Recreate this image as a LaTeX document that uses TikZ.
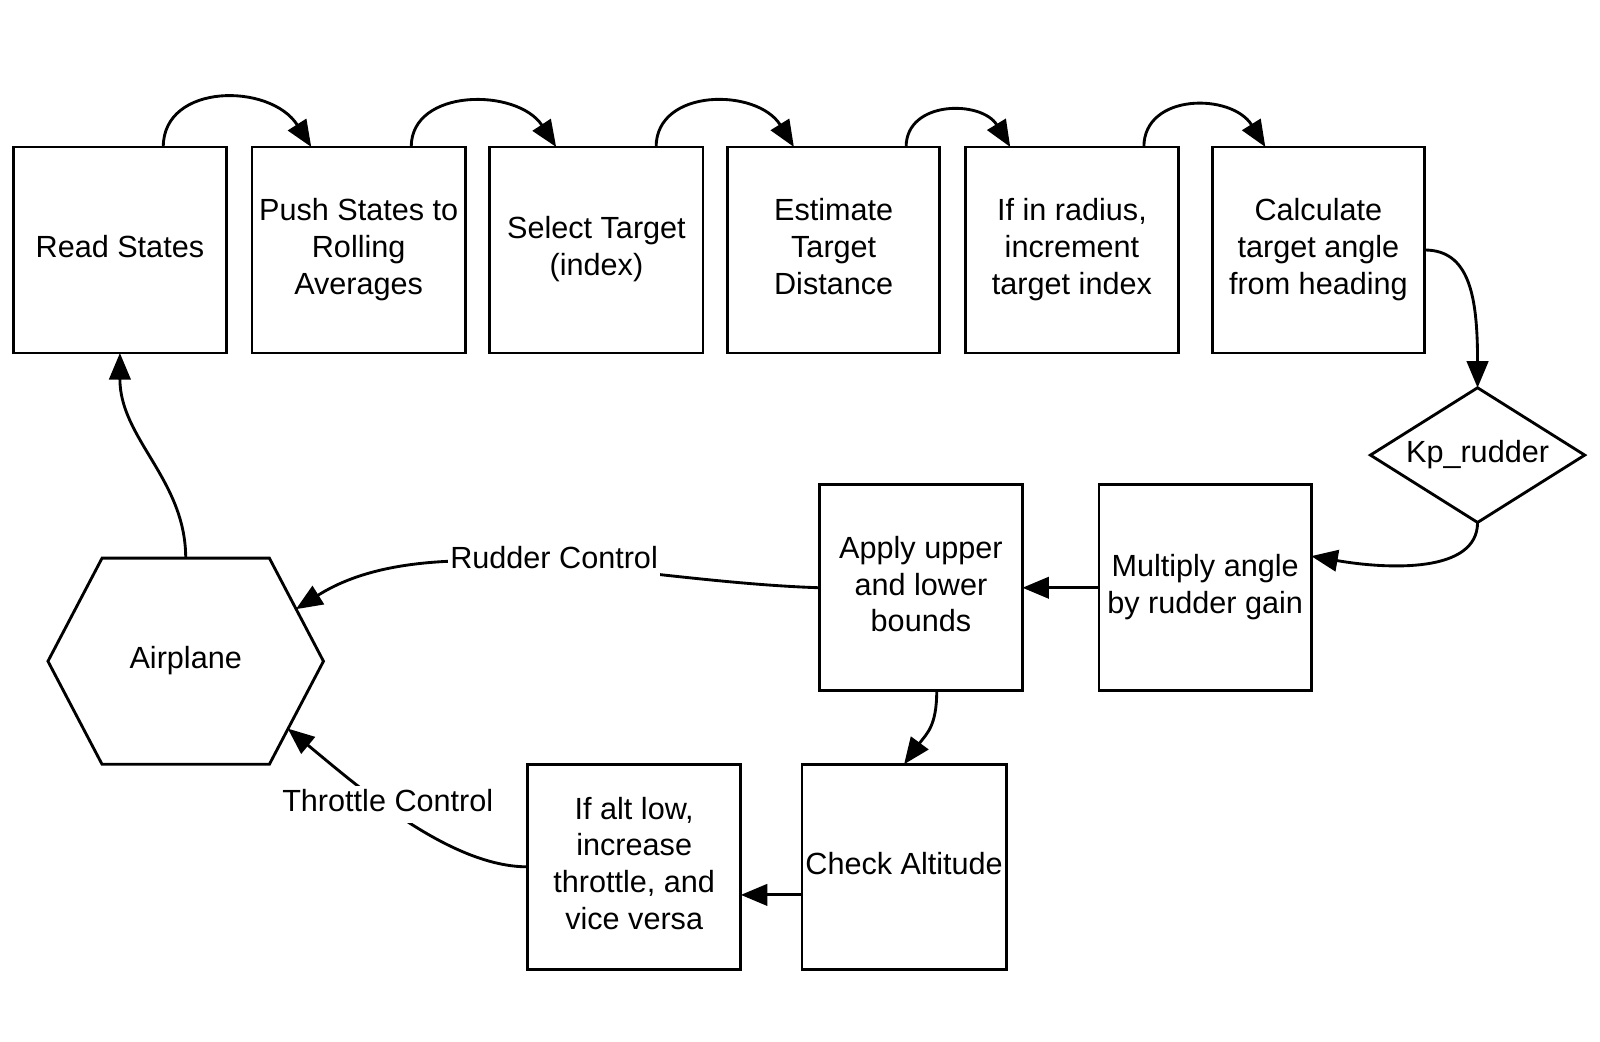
\documentclass[tikz,border=0pt]{standalone}
\usepackage{fontspec}
\setmainfont{Liberation Sans}
\usetikzlibrary{arrows.meta,shapes.geometric,calc}
\newcommand\mycell[1]{\begin{tabular}{@{}c@{}}#1\end{tabular}}
\tikzset{
  txt/.style={font=\fontsize{15}{18}\selectfont},
  box/.style={txt, draw, line width=1.4pt, minimum width=104.5pt, minimum height=101pt,
    inner sep=0pt, outer sep=0pt},
  kpbox/.style={txt, draw, diamond, line width=1.4pt, minimum width=105pt, minimum height=66pt,
    aspect=1.6, inner sep=0pt, outer sep=0pt},
  hexbox/.style={txt, draw=none, minimum width=135pt, minimum height=101pt,
    inner sep=0pt, outer sep=0pt},
  lbl/.style={txt, fill=white, inner xsep=1pt, inner ysep=0pt},
  conn/.style={line width=1.4pt, -{Triangle[length=13pt,width=10.5pt]}},
  edge/.style={line width=1.4pt, line join=miter}
}
\begin{document}
\begin{tikzpicture}[x=0.5pt,y=-0.5pt]
\useasboundingbox (0,0) rectangle (1568,1021);
% top row
\node[box] (read)   at (117.5,245) {\mycell{Read States}};
\node[box] (push)   at (351.5,245) {\mycell{Push States to\\Rolling\\Averages}};
\node[box] (select) at (584.5,245) {\mycell{Select Target\\(index)}};
\node[box, minimum width=104pt] (est) at (817,245) {\mycell{Estimate\\Target\\Distance}};
\node[box] (rad)    at (1050.5,245) {\mycell{If in radius,\\increment\\target index}};
\node[box, minimum width=104pt] (calc) at (1292,245) {\mycell{Calculate\\target angle\\from heading}};
% diamond
\node[kpbox] (kp) at (1448,446) {\mycell{Kp\_rudder}};
% middle row
\node[box, minimum width=104pt] (mult) at (1181,576) {\mycell{Multiply angle\\by rudder gain}};
\node[box, minimum width=99.5pt] (apply) at (902.5,576) {\mycell{Apply upper\\and lower\\bounds}};
% bottom row
\node[box, minimum width=100pt, minimum height=100.5pt] (check) at (886,849.5) {\mycell{Check Altitude}};
\node[box, minimum height=100.5pt] (alt) at (621.5,849.5) {\mycell{If alt low,\\increase\\throttle, and\\vice versa}};
% airplane hexagon
\node[hexbox] (air) at (182,648) {\mycell{Airplane}};
\draw[edge] (air.west) -- ($(air.north west)+(53,0)$) -- ($(air.north east)+(-53,0)$)
  -- (air.east) -- ($(air.south east)+(-53,0)$) -- ($(air.south west)+(53,0)$) -- cycle;
\coordinate (rudtip) at ($(air.center)+(108,-51)$);
\coordinate (thrtip) at ($(air.center)+(100,66)$);
% top arrows
\draw[conn] ($(read.north)+(42.5,0)$) .. controls +(0,-63) and +(-40,-63) .. ($(push.north)+(-46.5,0)$);
\draw[conn] ($(push.north)+(51.5,0)$) .. controls +(0,-58) and +(-38,-58) .. ($(select.north)+(-39.5,0)$);
\draw[conn] ($(select.north)+(58.5,0)$) .. controls +(0,-58) and +(-36,-58) .. ($(est.north)+(-39,0)$);
\draw[conn] ($(est.north)+(71,0)$) .. controls +(0,-46) and +(-28,-46) .. ($(rad.north)+(-60.5,0)$);
\draw[conn] ($(rad.north)+(70.5,0)$) .. controls +(0,-53) and +(-33,-53) .. ($(calc.north)+(-52,0)$);
% right side
\draw[conn] (calc.east) .. controls +(44,0) and +(0,-90) .. (kp.north);
\draw[conn] (kp.south) .. controls +(0,50) and +(75,13) .. ($(mult.east)+(0,-31)$);
\draw[conn] (mult.west) -- (apply.west -| apply.east);
\draw[conn] ($(apply.south)+(15.5,0)$) .. controls +(0,35) and +(22,-30) .. (check.north);
\draw[conn] (check.west |- 0,877) -- (alt.east |- 0,877);
% to airplane
\draw[conn] (apply.west) .. controls +(-183,-6) and +(130,-82) .. (rudtip);
\node[lbl] (rudlbl) at (543,549.5) {\mycell{Rudder Control}};
\draw[conn] (alt.west) .. controls +(-77,0) and +(68,56) .. (thrtip);
\node[lbl] (thrlbl) at (380,788.5) {\mycell{Throttle Control}};
\draw[conn] (air.north) .. controls +(0,-77) and +(0,84) .. (read.south);
\end{tikzpicture}
\end{document}
